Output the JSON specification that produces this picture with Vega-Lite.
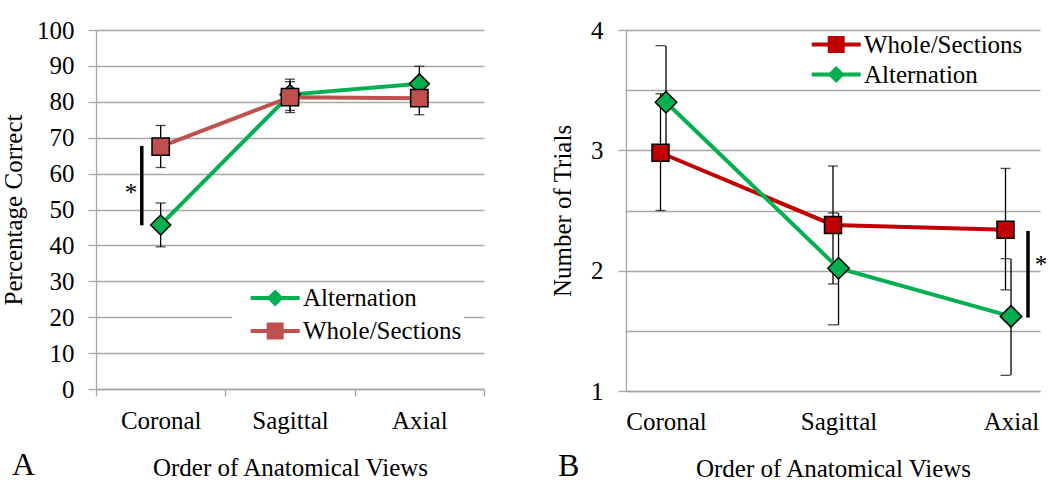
{
  "$schema": "https://vega.github.io/schema/vega-lite/v6.json",
  "background": "white",
  "padding": {"left": 1, "top": 18, "right": 0, "bottom": 0},
  "config": {
    "font": "Liberation Serif",
    "view": {"stroke": null},
    "axis": {"labelFont": "Liberation Serif", "titleFont": "Liberation Serif", "labelFontSize": 25, "titleFontSize": 25, "titleFontWeight": "normal", "labelColor": "#000", "titleColor": "#000", "domainColor": "#a6a6a6", "domainWidth": 1.3, "tickColor": "#a6a6a6", "tickWidth": 1.3, "gridColor": "#a6a6a6", "gridWidth": 1.3},
    "legend": {"labelFont": "Liberation Serif", "labelFontSize": 25, "labelColor": "#000"},
    "title": {"font": "Liberation Serif", "fontWeight": "normal", "color": "#000"}
  },
  "datasets": {
    "a": [
      {"view": "Coronal", "series": "Alternation", "mean": 45.7, "lo": 39.6, "hi": 51.8},
      {"view": "Sagittal", "series": "Alternation", "mean": 82.0, "lo": 77.6, "hi": 86.3},
      {"view": "Axial", "series": "Alternation", "mean": 85.0, "lo": 80.1, "hi": 89.9},
      {"view": "Coronal", "series": "Whole/Sections", "mean": 67.5, "lo": 61.7, "hi": 73.4},
      {"view": "Sagittal", "series": "Whole/Sections", "mean": 81.3, "lo": 77.0, "hi": 85.6},
      {"view": "Axial", "series": "Whole/Sections", "mean": 81.0, "lo": 76.4, "hi": 85.6}
    ],
    "b": [
      {"view": "Coronal", "series": "Whole/Sections", "mean": 2.98, "lo": 2.50, "hi": 3.47},
      {"view": "Sagittal", "series": "Whole/Sections", "mean": 2.38, "lo": 1.89, "hi": 2.87},
      {"view": "Axial", "series": "Whole/Sections", "mean": 2.34, "lo": 1.84, "hi": 2.85},
      {"view": "Coronal", "series": "Alternation", "mean": 3.40, "lo": 2.93, "hi": 3.87},
      {"view": "Sagittal", "series": "Alternation", "mean": 2.02, "lo": 1.55, "hi": 2.48},
      {"view": "Axial", "series": "Alternation", "mean": 1.62, "lo": 1.13, "hi": 2.10}
    ],
    "asig": [{"view": "Coronal", "lo": 45.6, "hi": 67.7, "label": "*"}],
    "bsig": [{"view": "Axial", "lo": 1.61, "hi": 2.33, "label": "*"}]
  },
  "spacing": 65,
  "resolve": {
    "scale": {"x": "independent", "y": "independent", "stroke": "independent", "fill": "independent", "shape": "independent"},
    "legend": {"stroke": "independent", "fill": "independent", "shape": "independent"}
  },
  "hconcat": [
    {
      "width": 388,
      "height": 359,
      "title": {"text": "A", "orient": "bottom", "anchor": "start", "frame": "group", "font": "Liberation Serif", "fontSize": 32, "fontWeight": "normal", "color": "#000", "baseline": "alphabetic", "dx": -84, "offset": -5},
      "layer": [
        {
          "data": {"name": "a"},
          "mark": {"type": "rule", "color": "#000", "strokeWidth": 1.3},
          "encoding": {
            "x": {"field": "view", "type": "nominal", "title": "Order of Anatomical Views", "scale": {"type": "band", "domain": ["Coronal", "Sagittal", "Axial"], "paddingInner": 0, "paddingOuter": 0}, "axis": {"tickBand": "extent", "tickSize": 7, "labelPadding": 12, "labelAngle": 0, "titlePadding": 22, "grid": false, "labelFont": "Liberation Serif", "labelFontSize": 25, "titleFont": "Liberation Serif", "titleFontSize": 25, "titleFontWeight": "normal", "labelColor": "#000", "titleColor": "#000"}},
            "y": {"field": "lo", "type": "quantitative", "title": "Percentage Correct", "scale": {"domain": [0, 100], "nice": false}, "axis": {"values": [0, 10, 20, 30, 40, 50, 60, 70, 80, 90, 100], "tickCount": 11, "labelOverlap": false, "grid": true, "tickSize": 8, "labelPadding": 14, "titlePadding": 10, "labelFont": "Liberation Serif", "labelFontSize": 25, "titleFont": "Liberation Serif", "titleFontSize": 25, "titleFontWeight": "normal", "labelColor": "#000", "titleColor": "#000"}},
            "y2": {"field": "hi"}
          }
        },
        {
          "data": {"name": "a"},
          "mark": {"type": "tick", "color": "#000", "thickness": 1.3, "size": 10, "orient": "horizontal"},
          "encoding": {
            "x": {"field": "view", "type": "nominal", "title": "Order of Anatomical Views"},
            "y": {"field": "lo", "type": "quantitative", "title": "Percentage Correct"}
          }
        },
        {
          "data": {"name": "a"},
          "mark": {"type": "tick", "color": "#000", "thickness": 1.3, "size": 10, "orient": "horizontal"},
          "encoding": {
            "x": {"field": "view", "type": "nominal", "title": "Order of Anatomical Views"},
            "y": {"field": "hi", "type": "quantitative", "title": "Percentage Correct"}
          }
        },
        {
          "data": {"name": "a"},
          "transform": [{"filter": "datum.series === 'Alternation'"}],
          "mark": {"type": "line", "strokeWidth": 4},
          "encoding": {
            "x": {"field": "view", "type": "nominal", "title": "Order of Anatomical Views"},
            "y": {"field": "mean", "type": "quantitative", "title": "Percentage Correct"},
            "stroke": {"field": "series", "type": "nominal", "scale": {"domain": ["Alternation", "Whole/Sections"], "range": ["#00b050", "#c0504d"]}, "legend": {"orient": "none", "legendX": 136, "legendY": 253.5, "title": null, "symbolType": "M-3.5,0L3.5,0", "symbolSize": 196, "symbolStrokeWidth": 4, "symbolOffset": 28.7, "labelOffset": 15.3, "labelExpr": "datum.label + '\u00a0\u00a0'", "labelFont": "Liberation Serif", "labelFontSize": 25, "labelColor": "#000", "padding": 2, "rowPadding": 7, "fillColor": "white"}}
          }
        },
        {
          "data": {"name": "a"},
          "transform": [{"filter": "datum.series === 'Whole/Sections'"}],
          "mark": {"type": "line", "strokeWidth": 4},
          "encoding": {
            "x": {"field": "view", "type": "nominal", "title": "Order of Anatomical Views"},
            "y": {"field": "mean", "type": "quantitative", "title": "Percentage Correct"},
            "stroke": {"field": "series", "type": "nominal"}
          }
        },
        {
          "data": {"name": "a"},
          "transform": [{"filter": "datum.series === 'Alternation'"}],
          "mark": {"type": "point", "filled": true, "size": 400, "stroke": "#000", "strokeWidth": 1.5, "opacity": 1},
          "encoding": {
            "x": {"field": "view", "type": "nominal", "title": "Order of Anatomical Views"},
            "y": {"field": "mean", "type": "quantitative", "title": "Percentage Correct"},
            "fill": {"field": "series", "type": "nominal", "scale": {"range": ["#00b050", "#c0504d"]}, "legend": {"orient": "none", "legendX": 136, "legendY": 253.5, "title": null, "symbolSize": 289, "symbolStrokeColor": "#000", "symbolStrokeWidth": 1.5, "symbolOffset": 28.7, "labelOffset": 15.3, "labelFont": "Liberation Serif", "labelFontSize": 25, "labelOpacity": 0, "padding": 2, "rowPadding": 7}},
            "shape": {"field": "series", "type": "nominal", "scale": {"range": ["diamond", "square"]}, "legend": {"orient": "none", "legendX": 136, "legendY": 253.5, "title": null, "symbolSize": 289, "symbolStrokeColor": "#000", "symbolStrokeWidth": 1.5, "symbolOffset": 28.7, "labelOffset": 15.3, "labelFont": "Liberation Serif", "labelFontSize": 25, "labelOpacity": 0, "padding": 2, "rowPadding": 7}}
          }
        },
        {
          "data": {"name": "a"},
          "transform": [{"filter": "datum.series === 'Whole/Sections'"}],
          "mark": {"type": "point", "filled": true, "size": 300, "stroke": "#000", "strokeWidth": 1.5, "opacity": 1},
          "encoding": {
            "x": {"field": "view", "type": "nominal", "title": "Order of Anatomical Views"},
            "y": {"field": "mean", "type": "quantitative", "title": "Percentage Correct"},
            "fill": {"field": "series", "type": "nominal"},
            "shape": {"field": "series", "type": "nominal"}
          }
        },
        {
          "data": {"name": "asig"},
          "mark": {"type": "rule", "color": "#000", "strokeWidth": 3.5},
          "encoding": {
            "x": {"field": "view", "type": "nominal", "bandPosition": 0.354, "title": "Order of Anatomical Views"},
            "y": {"field": "lo", "type": "quantitative", "title": "Percentage Correct"},
            "y2": {"field": "hi"}
          }
        },
        {
          "data": {"name": "asig"},
          "mark": {"type": "text", "font": "Liberation Serif", "fontSize": 25, "align": "center", "baseline": "alphabetic", "dy": -24, "color": "#000"},
          "encoding": {
            "x": {"field": "view", "type": "nominal", "bandPosition": 0.27, "title": "Order of Anatomical Views"},
            "y": {"field": "lo", "type": "quantitative", "title": "Percentage Correct"},
            "text": {"field": "label"}
          }
        }
      ]
    },
    {
      "width": 414,
      "height": 361,
      "title": {"text": "B", "orient": "bottom", "anchor": "start", "frame": "group", "font": "Liberation Serif", "fontSize": 32, "fontWeight": "normal", "color": "#000", "baseline": "alphabetic", "dx": -68, "offset": -5},
      "layer": [
        {
          "data": {"name": "b"},
          "transform": [{"filter": "datum.series === 'Whole/Sections'"}],
          "mark": {"type": "rule", "color": "#000", "strokeWidth": 1.3},
          "encoding": {
            "x": {"field": "view", "type": "nominal", "bandPosition": 0.5, "title": "Order of Anatomical Views", "scale": {"type": "band", "domain": ["Coronal", "Sagittal", "Axial"], "paddingInner": 0.8, "paddingOuter": 0.1}, "axis": {"ticks": false, "labelPadding": 18, "labelOffset": 6, "labelAngle": 0, "titlePadding": 22, "grid": false, "labelFont": "Liberation Serif", "labelFontSize": 25, "titleFont": "Liberation Serif", "titleFontSize": 25, "titleFontWeight": "normal", "labelColor": "#000", "titleColor": "#000"}},
            "y": {"field": "lo", "type": "quantitative", "title": "Number of Trials", "scale": {"domain": [1, 4], "nice": false, "zero": false}, "axis": {"values": [1, 1.5, 2, 2.5, 3, 3.5, 4], "labelExpr": "datum.value % 1 === 0 ? format(datum.value, 'd') : ''", "tickOpacity": {"condition": {"test": "datum.value % 1 !== 0", "value": 0}, "value": 1}, "labelOverlap": false, "grid": true, "tickSize": 8, "labelPadding": 15, "titlePadding": 15, "labelFont": "Liberation Serif", "labelFontSize": 25, "titleFont": "Liberation Serif", "titleFontSize": 25, "titleFontWeight": "normal", "labelColor": "#000", "titleColor": "#000"}},
            "y2": {"field": "hi"}
          }
        },
        {
          "data": {"name": "b"},
          "transform": [{"filter": "datum.series === 'Whole/Sections'"}],
          "mark": {"type": "tick", "color": "#000", "thickness": 1.3, "size": 10, "orient": "horizontal"},
          "encoding": {
            "x": {"field": "view", "type": "nominal", "bandPosition": 0.5, "title": "Order of Anatomical Views"},
            "y": {"field": "lo", "type": "quantitative", "title": "Number of Trials"}
          }
        },
        {
          "data": {"name": "b"},
          "transform": [{"filter": "datum.series === 'Whole/Sections'"}],
          "mark": {"type": "tick", "color": "#000", "thickness": 1.3, "size": 10, "orient": "horizontal"},
          "encoding": {
            "x": {"field": "view", "type": "nominal", "bandPosition": 0.5, "title": "Order of Anatomical Views"},
            "y": {"field": "hi", "type": "quantitative", "title": "Number of Trials"}
          }
        },
        {
          "data": {"name": "b"},
          "transform": [{"filter": "datum.series === 'Alternation'"}],
          "mark": {"type": "rule", "color": "#000", "strokeWidth": 1.3},
          "encoding": {
            "x": {"field": "view", "type": "nominal", "bandPosition": 0.66, "title": "Order of Anatomical Views"},
            "y": {"field": "lo", "type": "quantitative", "title": "Number of Trials"},
            "y2": {"field": "hi"}
          }
        },
        {
          "data": {"name": "b"},
          "transform": [{"filter": "datum.series === 'Alternation'"}],
          "mark": {"type": "tick", "color": "#000", "thickness": 1.3, "size": 10, "orient": "horizontal"},
          "encoding": {
            "x": {"field": "view", "type": "nominal", "bandPosition": 0.66, "title": "Order of Anatomical Views"},
            "y": {"field": "lo", "type": "quantitative", "title": "Number of Trials"}
          }
        },
        {
          "data": {"name": "b"},
          "transform": [{"filter": "datum.series === 'Alternation'"}],
          "mark": {"type": "tick", "color": "#000", "thickness": 1.3, "size": 10, "orient": "horizontal"},
          "encoding": {
            "x": {"field": "view", "type": "nominal", "bandPosition": 0.66, "title": "Order of Anatomical Views"},
            "y": {"field": "hi", "type": "quantitative", "title": "Number of Trials"}
          }
        },
        {
          "data": {"name": "b"},
          "transform": [{"filter": "datum.series === 'Whole/Sections'"}],
          "mark": {"type": "line", "strokeWidth": 4},
          "encoding": {
            "x": {"field": "view", "type": "nominal", "bandPosition": 0.5, "title": "Order of Anatomical Views"},
            "y": {"field": "mean", "type": "quantitative", "title": "Number of Trials"},
            "stroke": {"field": "series", "type": "nominal", "scale": {"domain": ["Whole/Sections", "Alternation"], "range": ["#c00000", "#00b050"]}, "legend": {"orient": "none", "legendX": 185.7, "legendY": 2, "title": null, "symbolType": "M-3.5,0L3.5,0", "symbolSize": 196, "symbolStrokeWidth": 4, "symbolOffset": 12, "labelOffset": 15.3, "labelFont": "Liberation Serif", "labelFontSize": 25, "labelColor": "#000", "padding": 0, "rowPadding": 4}}
          }
        },
        {
          "data": {"name": "b"},
          "transform": [{"filter": "datum.series === 'Alternation'"}],
          "mark": {"type": "line", "strokeWidth": 4},
          "encoding": {
            "x": {"field": "view", "type": "nominal", "bandPosition": 0.66, "title": "Order of Anatomical Views"},
            "y": {"field": "mean", "type": "quantitative", "title": "Number of Trials"},
            "stroke": {"field": "series", "type": "nominal"}
          }
        },
        {
          "data": {"name": "b"},
          "transform": [{"filter": "datum.series === 'Whole/Sections'"}],
          "mark": {"type": "point", "filled": true, "size": 289, "stroke": "#000", "strokeWidth": 1.5, "opacity": 1},
          "encoding": {
            "x": {"field": "view", "type": "nominal", "bandPosition": 0.5, "title": "Order of Anatomical Views"},
            "y": {"field": "mean", "type": "quantitative", "title": "Number of Trials"},
            "fill": {"field": "series", "type": "nominal", "sort": "descending", "scale": {"range": ["#c00000", "#00b050"]}, "legend": {"orient": "none", "legendX": 185.7, "legendY": 2, "title": null, "symbolSize": 289, "symbolStrokeColor": "#000", "symbolStrokeWidth": 1.5, "symbolOffset": 12, "labelOffset": 15.3, "labelFont": "Liberation Serif", "labelFontSize": 25, "labelOpacity": 0, "padding": 0, "rowPadding": 4}},
            "shape": {"field": "series", "type": "nominal", "sort": "descending", "scale": {"range": ["square", "diamond"]}, "legend": {"orient": "none", "legendX": 185.7, "legendY": 2, "title": null, "symbolSize": 289, "symbolStrokeColor": "#000", "symbolStrokeWidth": 1.5, "symbolOffset": 12, "labelOffset": 15.3, "labelFont": "Liberation Serif", "labelFontSize": 25, "labelOpacity": 0, "padding": 0, "rowPadding": 4}}
          }
        },
        {
          "data": {"name": "b"},
          "transform": [{"filter": "datum.series === 'Alternation'"}],
          "mark": {"type": "point", "filled": true, "size": 460, "stroke": "#000", "strokeWidth": 1.5, "opacity": 1},
          "encoding": {
            "x": {"field": "view", "type": "nominal", "bandPosition": 0.66, "title": "Order of Anatomical Views"},
            "y": {"field": "mean", "type": "quantitative", "title": "Number of Trials"},
            "fill": {"field": "series", "type": "nominal", "sort": "descending"},
            "shape": {"field": "series", "type": "nominal", "sort": "descending"}
          }
        },
        {
          "data": {"name": "bsig"},
          "mark": {"type": "rule", "color": "#000", "strokeWidth": 3.5},
          "encoding": {
            "x": {"field": "view", "type": "nominal", "bandPosition": 1.152, "title": "Order of Anatomical Views"},
            "y": {"field": "lo", "type": "quantitative", "title": "Number of Trials"},
            "y2": {"field": "hi"}
          }
        },
        {
          "data": {"name": "bsig"},
          "mark": {"type": "text", "font": "Liberation Serif", "fontSize": 25, "align": "center", "baseline": "alphabetic", "dy": -45, "color": "#000"},
          "encoding": {
            "x": {"field": "view", "type": "nominal", "bandPosition": 1.53, "title": "Order of Anatomical Views"},
            "y": {"field": "lo", "type": "quantitative", "title": "Number of Trials"},
            "text": {"field": "label"}
          }
        }
      ]
    }
  ]
}
